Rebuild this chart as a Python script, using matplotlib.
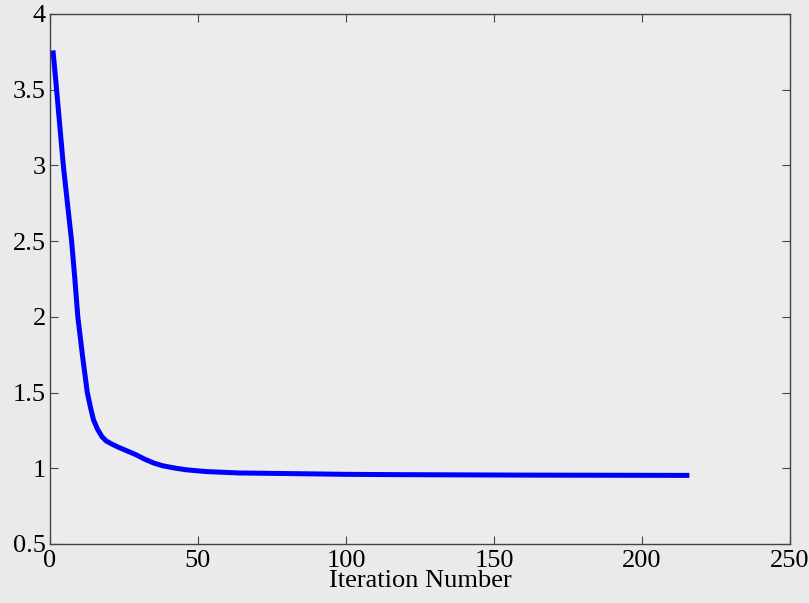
import matplotlib
matplotlib.use('Agg')
import matplotlib.pyplot as plt
import numpy as np

plt.rcParams['font.family'] = ['Liberation Serif', 'DejaVu Serif']

# iteration vs. objective value
iters = [1, 2, 3, 4.5, 6, 7.3, 8.4, 9.4, 11, 12.6, 13.7, 14.7, 16, 17.5, 19, 20.9,
         23, 26, 29, 32, 35, 38, 41.7, 46, 53, 64, 85, 100, 118, 160, 216]
vals = [3.76, 3.55, 3.33, 3.0, 2.73, 2.5, 2.25, 2.0, 1.74, 1.5, 1.4, 1.32, 1.26,
        1.21, 1.18, 1.16, 1.14, 1.115, 1.09, 1.06, 1.035, 1.017, 1.003, 0.99, 0.978,
        0.969, 0.964, 0.96, 0.958, 0.955, 0.953]

fig = plt.figure(figsize=(8.09, 6.03), dpi=100, facecolor='#eaeaea')
ax = fig.add_axes([50/809, 59/603, 740/809, 530/603])
ax.set_facecolor('#ececec')

ax.plot(iters, vals, color='#0000ff', lw=3.6, solid_capstyle='butt',
        solid_joinstyle='round')

ax.set_xlim(0, 250)
ax.set_ylim(0.5, 4)
ax.set_xticks(np.arange(0, 251, 50))
ax.set_yticks([0.5, 1, 1.5, 2, 2.5, 3, 3.5, 4])
ax.set_yticklabels(['0.5', '1', '1.5', '2', '2.5', '3', '3.5', '4'])
ax.tick_params(direction='in', length=6, width=0.8, color='#444444',
               top=True, right=True, labelsize=19, pad=3)
ax.tick_params(axis='x', pad=4)
for s in ax.spines.values():
    s.set_color('#444444')
    s.set_linewidth(1.0)

ax.set_xlabel('Iteration Number', fontsize=19, labelpad=-1)

plt.savefig('out.png', dpi=100, facecolor=fig.get_facecolor())
